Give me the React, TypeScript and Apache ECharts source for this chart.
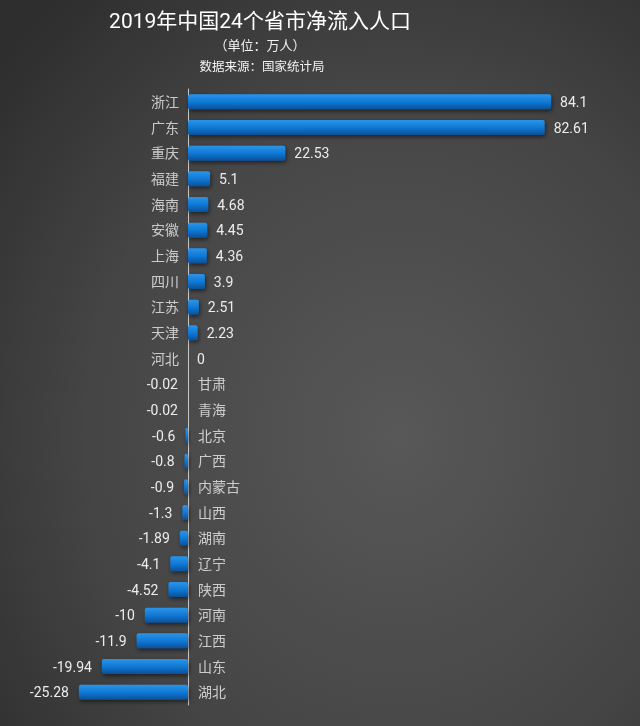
import React, { useEffect, useRef } from "react";
import * as echarts from "echarts";

const categories = ["浙江", "广东", "重庆", "福建", "海南", "安徽", "上海", "四川", "江苏", "天津", "河北", "甘肃", "青海", "北京", "广西", "内蒙古", "山西", "湖南", "辽宁", "陕西", "河南", "江西", "山东", "湖北"];
const values = [84.1, 82.61, 22.53, 5.1, 4.68, 4.45, 4.36, 3.9, 2.51, 2.23, 0, -0.02, -0.02, -0.6, -0.8, -0.9, -1.3, -1.89, -4.1, -4.52, -10, -11.9, -19.94, -25.28];
const titleText = "2019年中国24个省市净流入人口";
const unitText = "（单位：万人）";
const sourceText = "数据来源：国家统计局";

export default function App() {
  const ref = useRef<HTMLDivElement>(null);
  useEffect(() => {
    if (!ref.current) return;
    const chart = echarts.init(ref.current, undefined, { renderer: "svg" });
    const font = "Roboto, 'Noto Sans CJK SC', 'Noto Sans', sans-serif";
    const barColor = new echarts.graphic.LinearGradient(0, 0, 0, 1, [
      { offset: 0, color: "#2a95ea" },
      { offset: 0.55, color: "#0f76d2" },
      { offset: 1, color: "#0a4f96" },
    ]);
    chart.setOption({
      animation: false,
      backgroundColor: new echarts.graphic.RadialGradient(0.62, 0.6, 0.8, [
        { offset: 0, color: "#585858" },
        { offset: 0.6, color: "#454545" },
        { offset: 1, color: "#2e2e2e" },
      ]),
      graphic: [
        { type: "text", x: 260, y: 21, style: { text: titleText, fill: "#ffffff", font: `21px ${font}`, align: "center", verticalAlign: "middle" } },
        { type: "text", x: 260, y: 45, style: { text: unitText, fill: "#f2f2f2", font: `13px ${font}`, align: "center", verticalAlign: "middle" } },
        { type: "text", x: 262, y: 66, style: { text: sourceText, fill: "#f2f2f2", font: `12.5px ${font}`, align: "center", verticalAlign: "middle" } },
      ],
      grid: { left: 58.5, width: 561.2, top: 89, height: 616, containLabel: false },
      xAxis: { type: "value", min: -30, max: 100, show: false },
      yAxis: {
        type: "category",
        data: categories,
        inverse: true,
        axisLine: { show: true, onZero: true, lineStyle: { color: "#c8c8c8", width: 1 } },
        axisTick: { show: false },
        axisLabel: { show: false },
        splitLine: { show: false },
      },
      series: [
        {
          type: "bar",
          barWidth: 15,
          data: values.map((v) => ({
            value: v,
            label: { position: v < 0 ? "left" : "right", distance: v < 0 ? 10 : 9 },
          })),
          itemStyle: {
            color: barColor,
            borderRadius: 2,
            shadowColor: "rgba(0,0,0,0.55)",
            shadowBlur: 4,
            shadowOffsetY: 2,
            shadowOffsetX: 1,
          },
          label: {
            show: true,
            color: "#ececec",
            fontSize: 14,
            fontFamily: font,
            formatter: (p: any) => String(p.value),
          },
          z: 2,
        },
        {
          type: "scatter",
          symbolSize: 0,
          data: categories.map((c, i) => ({
            value: [0, c],
            label: { position: values[i] < 0 ? "right" : "left", distance: values[i] < 0 ? 10 : 9 },
          })),
          label: {
            show: true,
            color: "#ececec",
            fontSize: 14,
            fontFamily: font,
            formatter: (p: any) => categories[p.dataIndex],
          },
          silent: true,
          z: 3,
        },
      ],
    });
    return () => chart.dispose();
  }, []);
  return <div ref={ref} style={{ position: "fixed", left: 0, top: 0, width: 640, height: 726 }} />;
}
